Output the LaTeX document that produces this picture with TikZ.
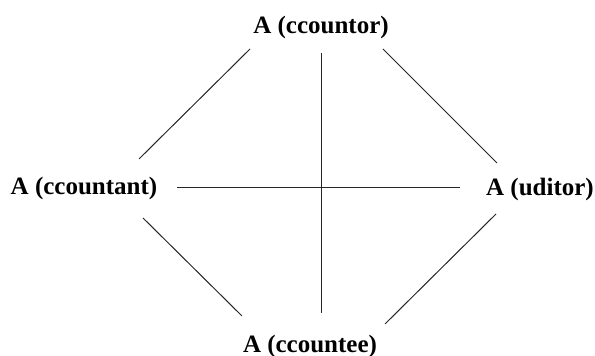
\documentclass[tikz,border=0pt]{standalone}
\usepackage{fontspec}
\setmainfont{Liberation Serif}
\usetikzlibrary{calc}

\begin{document}
\begin{tikzpicture}[
  x=0.5pt, y=-0.5pt,
  role/.style={inner sep=0pt, anchor=base, font=\fontsize{12.5}{15}\selectfont\bfseries},
  link/.style={line width=0.5pt, draw=black!85}
  ]
  \useasboundingbox (0,0) rectangle (595,356);
  \node[role] (tor) at (321,34) {A (ccountor)};
  \node[role] (tant) at (84,195) {A (ccountant)};
  \node[role] (aud) at (540,196) {A (uditor)};
  \node[role] (tee) at (310,353) {A (ccountee)};
  % outer square
  \draw[link] ($(tor.base)+(-71,15)$) -- ($(tant.base)+(55,-36)$);
  \draw[link] ($(tor.base)+(62,15)$) -- ($(aud.base)+(-43,-33)$);
  \draw[link] ($(tant.base)+(59,23)$) -- ($(tee.base)+(-68,-37)$);
  \draw[link] ($(aud.base)+(-44,18)$) -- ($(tee.base)+(75,-29)$);
  % cross
  \draw[link] ($(tor.base)+(0,19)$) -- ($(tee.base)+(11,-40)$);
  \draw[link] ($(tant.base)+(93,-7)$) -- ($(aud.base)+(-80,-8)$);
\end{tikzpicture}
\end{document}
